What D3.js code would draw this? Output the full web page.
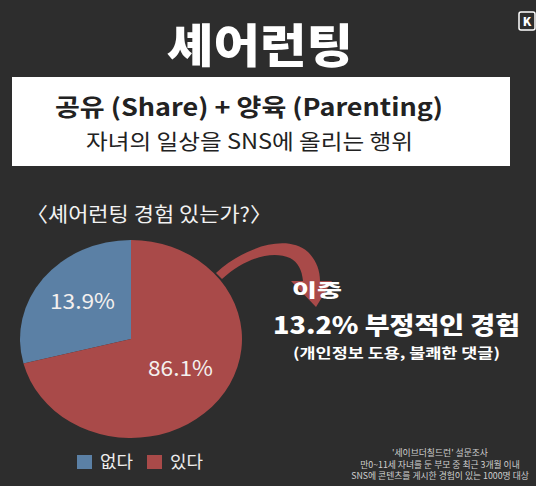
<!DOCTYPE html>
<html>
<head>
<meta charset="utf-8">
<script src="https://cdn.jsdelivr.net/npm/d3@7"></script>
<style>
  html, body { margin: 0; padding: 0; background: #2d2d2d; }
  svg { display: block; }
</style>
</head>
<body>
<svg id="chart"></svg>
<script>
// values
const categories = ["없다", "있다"];
const percentLabels = ["13.9%", "86.1%"];
// the drawn slices are not to scale with the labels, these are the measured shares
const sliceShare = [29, 71];
const colors = ["#5b80a5", "#a94a49"];

const title = "셰어런팅";
const headLine = "공유 (Share) + 양육 (Parenting)";
const subLine = "자녀의 일상을 SNS에 올리는 행위";
const question = "〈셰어런팅 경험 있는가?〉";
const calloutLines = ["이중", "13.2% 부정적인 경험", "(개인정보 도용, 불쾌한 댓글)"];
const sourceLines = [
  "'세이브더칠드런' 설문조사",
  "만0~11세 자녀를 둔 부모 중 최근 3개월 이내",
  "SNS에 콘텐츠를 게시한 경험이 있는 1000명 대상"
];

const W = 536, H = 486;
const font = "'Noto Sans CJK KR', 'Noto Sans', sans-serif";

const svg = d3.select("#chart")
  .attr("width", W)
  .attr("height", H)
  .style("font-family", font);

svg.append("rect").attr("width", W).attr("height", H).attr("fill", "#2d2d2d");

// helper: text stretched to the width it has in the picture
function txt(s, x, y, size, weight, fill, len, anchor) {
  const t = svg.append("text")
    .attr("x", x).attr("y", y)
    .attr("text-anchor", anchor || "start")
    .attr("fill", fill)
    .attr("font-size", size)
    .attr("font-weight", weight)
    .text(s);
  if (len) t.attr("textLength", len).attr("lengthAdjust", "spacingAndGlyphs");
  return t;
}

// title
txt(title, 167, 62, 46, 900, "#fff", 186);

// little logo top right
const logo = svg.append("g").attr("transform", "translate(519,12)");
logo.append("rect").attr("width", 16).attr("height", 18).attr("rx", 2)
  .attr("fill", "none").attr("stroke", "#fff").attr("stroke-width", 1.5);
logo.append("text").attr("x", 8).attr("y", 14).attr("text-anchor", "middle")
  .attr("fill", "#fff").attr("font-size", 12).attr("font-weight", 900).text("K");

// white definition box
svg.append("rect")
  .attr("x", 12).attr("y", 77).attr("width", 498).attr("height", 89)
  .attr("fill", "#fff");

txt(headLine, 55, 116, 24, 700, "#222", 388);
txt(subLine, 86, 149, 21, 400, "#222", 327);

// question
txt(question, 26, 222, 20, 400, "#f2f2f2", 246);

// pie (picture is slightly stretched horizontally)
const cx = 131, cy = 339, r = 99, sx = 111 / 99;
const total = d3.sum(sliceShare);
const start = -2 * Math.PI * sliceShare[0] / total;
const pie = d3.pie().sort(null).startAngle(start).endAngle(start + 2 * Math.PI);
const arcs = pie(sliceShare);
const arc = d3.arc().innerRadius(0).outerRadius(r);

// arrow leaving the red slice
svg.append("path")
  .attr("d", "M216,273 C240,250 285,232 308,252 C316,260 320,270 320,281 L332,281 L316,307 L291,281 L303,281 C302,270 298,262 290,258 C272,250 245,258 222,279 Z")
  .attr("fill", colors[1]);

const pg = svg.append("g")
  .attr("transform", `translate(${cx},${cy}) scale(${sx},1)`);

pg.selectAll("path")
  .data(arcs)
  .enter()
  .append("path")
  .attr("d", arc)
  .attr("fill", (d, i) => colors[i]);

const labelPos = [[50, 309], [148, 376]];
svg.selectAll(".slice-label")
  .data(arcs)
  .enter()
  .append("text")
  .attr("class", "slice-label")
  .attr("x", (d, i) => labelPos[i][0])
  .attr("y", (d, i) => labelPos[i][1])
  .attr("fill", "#f4f0ee").attr("font-size", 21)
  .attr("textLength", 65).attr("lengthAdjust", "spacingAndGlyphs")
  .text((d, i) => percentLabels[i]);

// legend
const legend = svg.append("g").attr("transform", "translate(77,455)");
const lx = [0, 70];
categories.forEach((c, i) => {
  legend.append("rect").attr("x", lx[i]).attr("y", 0).attr("width", 15).attr("height", 14)
    .attr("fill", colors[i]);
  legend.append("text").attr("x", lx[i] + 23).attr("y", 13)
    .attr("fill", "#eee").attr("font-size", 17)
    .attr("textLength", 33).attr("lengthAdjust", "spacingAndGlyphs")
    .text(c);
});

// callout text
txt(calloutLines[0], 292, 297, 18, 900, "#fff", 50);
txt(calloutLines[1], 273, 334, 24, 900, "#fff", 247);
txt(calloutLines[2], 293, 358, 14, 700, "#fff", 207);

// source note
svg.selectAll(".source")
  .data(sourceLines)
  .enter()
  .append("text")
  .attr("class", "source")
  .attr("x", 440)
  .attr("y", (d, i) => 456 + i * 11.5)
  .attr("text-anchor", "middle")
  .attr("fill", "#cfcfcf").attr("font-size", 8.8)
  .text(d => d);
</script>
</body>
</html>
